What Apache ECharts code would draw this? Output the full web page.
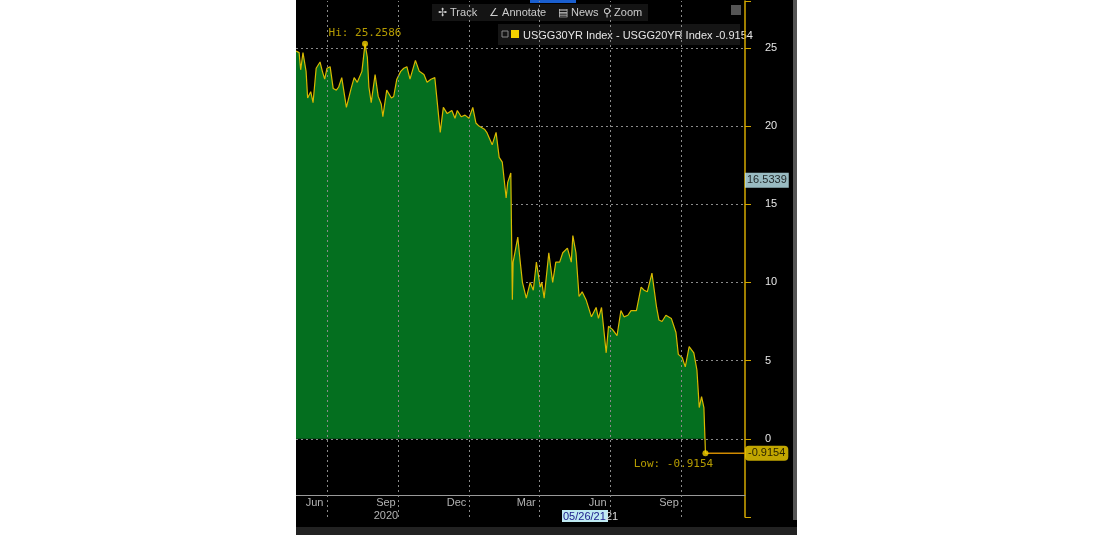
<!DOCTYPE html>
<html><head><meta charset="utf-8">
<script src="https://cdn.jsdelivr.net/npm/echarts@6/dist/echarts.min.js"></script>
<style>html,body{margin:0;padding:0;background:#fff;width:1100px;height:535px;overflow:hidden}
#c{position:absolute;left:296px;top:0;width:501px;height:535px;background:#000}</style>
</head><body><div id="c"></div>
<script>
const startDate = '2020-05-22';
const dayOffsets = [0,4,6,9,13,15,19,22,26,28,31,34,37,40,44,48,52,55,59,65,71,75,79,85,89,92,94,97,102,106,110,112,117,123,126,130,135,139,143,147,154,159,165,169,174,179,186,190,195,201,205,208,213,218,223,228,232,236,243,246,253,258,262,266,271,273,277,279,280,286,289,292,297,302,306,310,315,317,320,326,331,335,340,344,350,355,357,361,365,369,374,381,387,390,394,400,403,408,414,419,423,428,432,439,445,449,453,459,465,468,472,477,484,490,493,498,502,507,513,517,520,523,526,528];
const spreadValues = [24.8,24.7,23.6,24.7,23.5,21.8,22.2,21.5,23.7,23.8,24.1,23.5,23.0,23.7,23.8,22.4,22.3,22.5,23.1,21.2,22.4,23.1,22.8,23.5,25.2586,24.4,22.5,21.5,23.3,21.9,21.4,20.6,22.3,21.8,21.9,23.0,23.5,23.7,23.8,23.0,24.2,23.5,23.3,22.8,23.0,23.1,19.6,21.2,20.8,21.0,20.5,21.0,20.6,20.7,20.5,21.2,20.2,20.0,19.8,19.6,18.8,19.6,18.0,17.7,15.4,16.4,17.0,8.9,11.3,12.9,11.4,10.0,9.0,10.0,9.5,11.3,9.7,10.0,9.0,11.9,10.0,11.3,11.3,11.9,12.2,11.3,13.0,11.9,9.1,9.4,8.9,7.8,8.4,7.7,8.4,5.5,7.2,7.0,6.6,8.2,7.8,7.9,8.2,8.2,9.7,9.5,9.4,10.6,8.4,7.6,7.5,7.9,7.7,6.8,5.4,5.2,4.6,5.9,5.5,4.4,2.0,2.7,2.0,-0.9154];
const monthLabels = [['2020-06-15','Jun'],['2020-09-15','Sep'],['2020-12-15','Dec'],['2021-03-15','Mar'],['2021-06-15','Jun'],['2021-09-15','Sep']];
const quarterStarts = ['2020-07-01','2020-10-01','2021-01-01','2021-04-01','2021-07-01','2021-10-01'];
const yearLabels = [['2020-09-15','2020']];
const hiValue = 25.2586, lowValue = -0.9154, lastMark = 16.5339;
const legendText = 'USGG30YR Index - USGG20YR Index -0.9154';

const DAY = 86400000;
const t0 = Date.parse(startDate + 'T00:00:00Z');
const data = dayOffsets.map((d,i)=>[t0 + d*DAY, spreadValues[i]]);
const hiIdx = spreadValues.indexOf(hiValue);
const lastT = data[data.length-1][0];
const xMax = t0 + 579*DAY;

const chart = echarts.init(document.getElementById('c'), null, {renderer:'canvas'});
chart.setOption({
  backgroundColor:'#000',
  animation:false,
  grid:{left:0,right:52,top:1,bottom:18},
  xAxis:{type:'time',min:t0,max:xMax,
    axisLine:{onZero:false,lineStyle:{color:'#999'}},offset:-22,
    axisLabel:{show:false},axisTick:{show:false},splitLine:{show:false}},
  yAxis:{type:'value',position:'right',min:-5,max:28,interval:5,
    axisLine:{show:true,lineStyle:{color:'#d4a800',width:1.5}},
    axisTick:{show:true,length:6,lineStyle:{color:'#d4a800'}},
    axisLabel:{color:'#e6e6e6',fontFamily:'Liberation Sans',fontSize:11,margin:20,
      formatter:v=>(v<0||v>25)?'':String(v)},
    splitLine:{show:true,lineStyle:{color:['rgba(0,0,0,0)','#8a8a8a','#8a8a8a','#8a8a8a','#8a8a8a','#8a8a8a','#8a8a8a'],type:[2,3]}}},
  series:[
    {type:'line',data:data,symbol:'none',
      lineStyle:{color:'#d9b800',width:1.2},
      areaStyle:{color:'#046f1f',opacity:1,origin:0},
      markLine:{silent:true,symbol:'none',animation:false,
        lineStyle:{color:'#8a8a8a',type:[2,3],width:1},label:{show:false},
        data:quarterStarts.map(q=>({xAxis:Date.parse(q+'T00:00:00Z')}))}},
    {type:'line',data:[[lastT,lowValue],[xMax,lowValue]],symbol:'none',
      lineStyle:{color:'#d08a00',width:1.5},z:3},
    {type:'scatter',symbolSize:6,itemStyle:{color:'#f2d000'},z:5,
      data:[
        {value:[data[hiIdx][0],hiValue],label:{show:true,position:'top',distance:2,formatter:'Hi: '+hiValue,color:'#e0c000',fontFamily:'DejaVu Sans Mono',fontSize:11}},
        {value:[lastT,lowValue],label:{show:true,position:'bottom',offset:[-32,0],distance:3,formatter:'Low: '+lowValue,color:'#e0c000',fontFamily:'DejaVu Sans Mono',fontSize:11}}
      ]},
    {type:'scatter',symbolSize:0,silent:true,z:6,
      data:[
        {value:[xMax,lastMark],label:{show:true,position:'right',distance:0,formatter:lastMark.toFixed(4),
          color:'#000',backgroundColor:'#bfeaf2',padding:[2,2],fontFamily:'Liberation Sans',fontSize:11}},
        {value:[xMax,lowValue],label:{show:true,position:'right',distance:0,formatter:lowValue.toFixed(4),
          color:'#000',backgroundColor:'#f2d000',padding:[2,3],borderRadius:4,fontFamily:'Liberation Sans',fontSize:11}}
      ]},
    {type:'scatter',symbolSize:0,silent:true,
      data:monthLabels.map(m=>({value:[Date.parse(m[0]+'T00:00:00Z'),-4.1],label:{show:true,position:'inside',formatter:m[1],color:'#ddd',fontFamily:'Liberation Sans',fontSize:11}}))
        .concat(yearLabels.map(m=>({value:[Date.parse(m[0]+'T00:00:00Z'),-4.95],label:{show:true,position:'inside',formatter:m[1],color:'#ddd',fontFamily:'Liberation Sans',fontSize:11}})))}
  ],
  graphic:[
    {type:'rect',shape:{x:136,y:4,width:216,height:17},style:{fill:'#141414'}},
    {type:'text',x:142,y:7,style:{text:'✢ Track',fill:'#ccc',font:'11px Liberation Sans'}},
    {type:'text',x:193,y:7,style:{text:'∠ Annotate',fill:'#ccc',font:'11px Liberation Sans'}},
    {type:'text',x:262,y:7,style:{text:'▤ News',fill:'#ccc',font:'11px Liberation Sans'}},
    {type:'text',x:307,y:7,style:{text:'⚲ Zoom',fill:'#ccc',font:'11px Liberation Sans'}},
    {type:'rect',shape:{x:234,y:0,width:46,height:3},style:{fill:'#1a5fd0'}},
    {type:'rect',shape:{x:435,y:5,width:10,height:10},style:{fill:'#555'}},
    {type:'rect',shape:{x:202,y:24,width:242,height:21},style:{fill:'#151515'}},
    {type:'rect',shape:{x:206,y:31,width:6,height:6},style:{fill:'none',stroke:'#888'}},
    {type:'rect',shape:{x:215,y:30,width:8,height:8},style:{fill:'#f2d000'}},
    {type:'text',x:227,y:30,style:{text:legendText,fill:'#e6e6e6',font:'11px Liberation Sans'}},
    {type:'rect',shape:{x:497,y:0,width:4,height:520},style:{fill:'#555'}},
    {type:'rect',shape:{x:0,y:527,width:501,height:8},style:{fill:'#222'}},
    {type:'rect',shape:{x:266,y:510,width:46,height:12},style:{fill:'#bfeaf2'}},
    {type:'text',x:267,y:511,style:{text:'05/26/21',fill:'#1a1a8a',font:'11px Liberation Sans'}},
    {type:'text',x:310,y:511,style:{text:'21',fill:'#ddd',font:'11px Liberation Sans'}}
  ]
});
</script></body></html>
